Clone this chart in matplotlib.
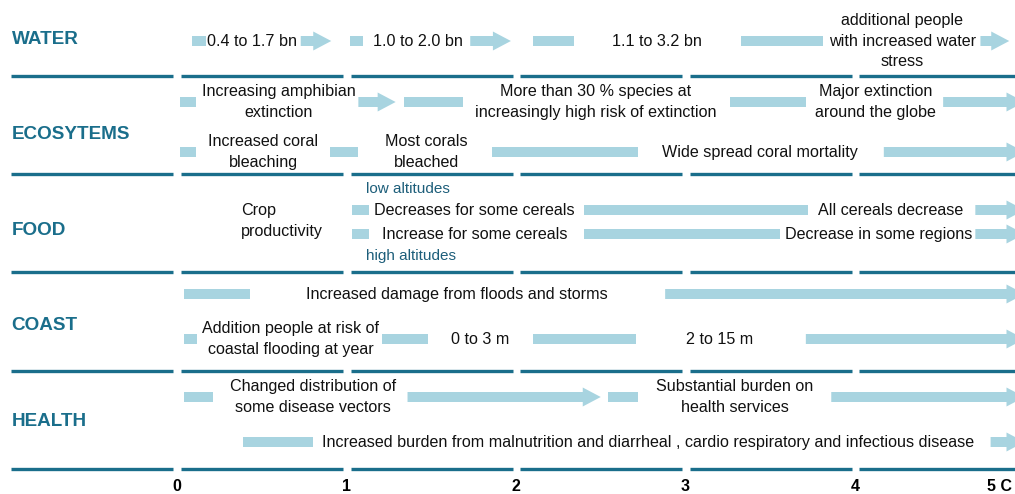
import matplotlib.pyplot as plt
from matplotlib.patches import FancyArrow

plt.rcParams['font.family'] = ['Liberation Sans', 'DejaVu Sans']

categories = ['WATER', 'ECOSYTEMS', 'FOOD', 'COAST', 'HEALTH']
tick_values = [0, 1, 2, 3, 4]
tick_labels = ['0', '1', '2', '3', '4']
last_tick = '5 C'

# bars / arrows per row: (lane, start degC, end degC, arrow head)
water_marks = [(0, 0.09, 0.17, False), (0, 0.73, 0.91, True),
               (0, 1.02, 1.10, False), (0, 1.73, 1.97, True),
               (0, 2.10, 2.34, False), (0, 3.33, 3.81, False),
               (0, 4.74, 4.91, True)]
eco_marks = [(0, 0.02, 0.11, False), (0, 1.07, 1.29, True),
             (0, 1.34, 1.69, False), (0, 3.26, 3.71, False),
             (0, 4.52, 5.0, True),
             (1, 0.02, 0.11, False), (1, 0.90, 1.07, False),
             (1, 1.86, 2.72, False), (1, 4.17, 5.0, True)]
food_marks = [(0, 1.03, 1.13, False), (0, 2.40, 3.72, False), (0, 4.71, 5.0, True),
              (1, 1.03, 1.13, False), (1, 2.40, 3.56, False), (1, 4.71, 5.0, True)]
coast_marks = [(0, 0.04, 0.43, False), (0, 2.88, 5.0, True),
               (1, 0.04, 0.12, False), (1, 1.21, 1.48, False),
               (1, 2.10, 2.71, False), (1, 3.71, 5.0, True)]
health_marks = [(0, 0.04, 0.21, False), (0, 1.36, 2.50, True),
                (0, 2.54, 2.72, False), (0, 3.86, 5.0, True),
                (1, 0.39, 0.80, False), (1, 4.80, 5.0, True)]

# texts per row: (lane, x degC, text, alignment)
water_text = [(0, 0.44, '0.4 to 1.7 bn', 'center'),
              (0, 1.42, '1.0 to 2.0 bn', 'center'),
              (0, 2.83, '1.1 to 3.2 bn', 'center'),
              (0, 4.28, 'additional people\nwith increased water\nstress', 'center')]
eco_text = [(0, 0.60, 'Increasing amphibian\nextinction', 'center'),
            (0, 2.47, 'More than 30 % species at\nincreasingly high risk of extinction', 'center'),
            (0, 4.12, 'Major extinction\naround the globe', 'center'),
            (1, 0.51, 'Increased coral\nbleaching', 'center'),
            (1, 1.47, 'Most corals\nbleached', 'center'),
            (1, 3.44, 'Wide spread coral mortality', 'center')]
food_text = [(2, 0.38, 'Crop\nproductivity', 'left'),
             (0, 1.16, 'Decreases for some cereals', 'left'),
             (0, 4.21, 'All cereals decrease', 'center'),
             (1, 1.21, 'Increase for some cereals', 'left'),
             (1, 4.14, 'Decrease in some regions', 'center')]
coast_text = [(0, 1.65, 'Increased damage from floods and storms', 'center'),
              (1, 0.67, 'Addition people at risk of\ncoastal flooding at year', 'center'),
              (1, 1.79, '0 to 3 m', 'center'),
              (1, 3.20, '2 to 15 m', 'center')]
health_text = [(0, 0.80, 'Changed distribution of\nsome disease vectors', 'center'),
               (0, 3.29, 'Substantial burden on\nhealth services', 'center'),
               (1, 0.855, 'Increased burden from malnutrition and diarrheal , '
                          'cardio respiratory and infectious disease', 'left')]
altitude_notes = [(3, 1.115, 'low altitudes'), (4, 1.115, 'high altitudes')]

rows = [(water_marks, water_text), (eco_marks, eco_text), (food_marks, food_text),
        (coast_marks, coast_text), (health_marks, health_text)]

# layout (vertical positions in pixels from the top)
label_y = [39, 134, 230, 325, 421]
lanes = [[41], [102, 152], [210, 234, 221, 189, 256], [294, 339], [397, 442]]
rules_y = [76.5, 174.5, 272, 370.7, 468.5]

teal = '#1a6e8b'
light = '#a8d4e0'
px = 1 / 169.5  # one pixel in degC

fig = plt.figure(figsize=(10.15, 4.94), dpi=100)
ax = fig.add_axes([0, 0, 1, 1])
ax.set_xlim(-177 * px, (1015 - 177) * px)
ax.set_ylim(494, 0)
ax.axis('off')

# separator rules, broken at each degree
for y in rules_y:
    ax.plot([-0.98, -0.025], [y, y], color=teal, lw=2.4, solid_capstyle='butt')
    for k in range(5):
        ax.plot([k + 0.025, k + 0.98], [y, y], color=teal, lw=2.4,
                solid_capstyle='butt')

for i, name in enumerate(categories):
    ax.text(-0.975, label_y[i], name, color=teal, fontsize=13.6,
            fontweight='bold', ha='left', va='center')
    marks, texts = rows[i]
    for lane, x0, x1, head in marks:
        y = lanes[i][lane]
        if head:
            ax.add_patch(FancyArrow(x0, y, x1 - x0, 0, width=10, head_width=19,
                                    head_length=18 * px, length_includes_head=True,
                                    color=light, lw=0))
        else:
            ax.add_patch(FancyArrow(x0, y, x1 - x0, 0, width=10, head_width=10,
                                    head_length=0, length_includes_head=True,
                                    color=light, lw=0))
    for lane, x, s, ha in texts:
        ax.text(x, lanes[i][lane], s, fontsize=11.6, color='#111111', ha=ha,
                va='center', multialignment=ha, linespacing=1.42)

for lane, x, s in altitude_notes:
    ax.text(x, lanes[2][lane], s, fontsize=11, color='#1d5e7a', ha='left',
            va='center')

for t, lab in zip(tick_values, tick_labels):
    ax.text(t, 486, lab, fontsize=11.5, fontweight='bold', ha='center', va='center')
ax.text(4.78, 486, last_tick, fontsize=11.5, fontweight='bold', ha='left', va='center')

fig.savefig('out.png', dpi=100)
